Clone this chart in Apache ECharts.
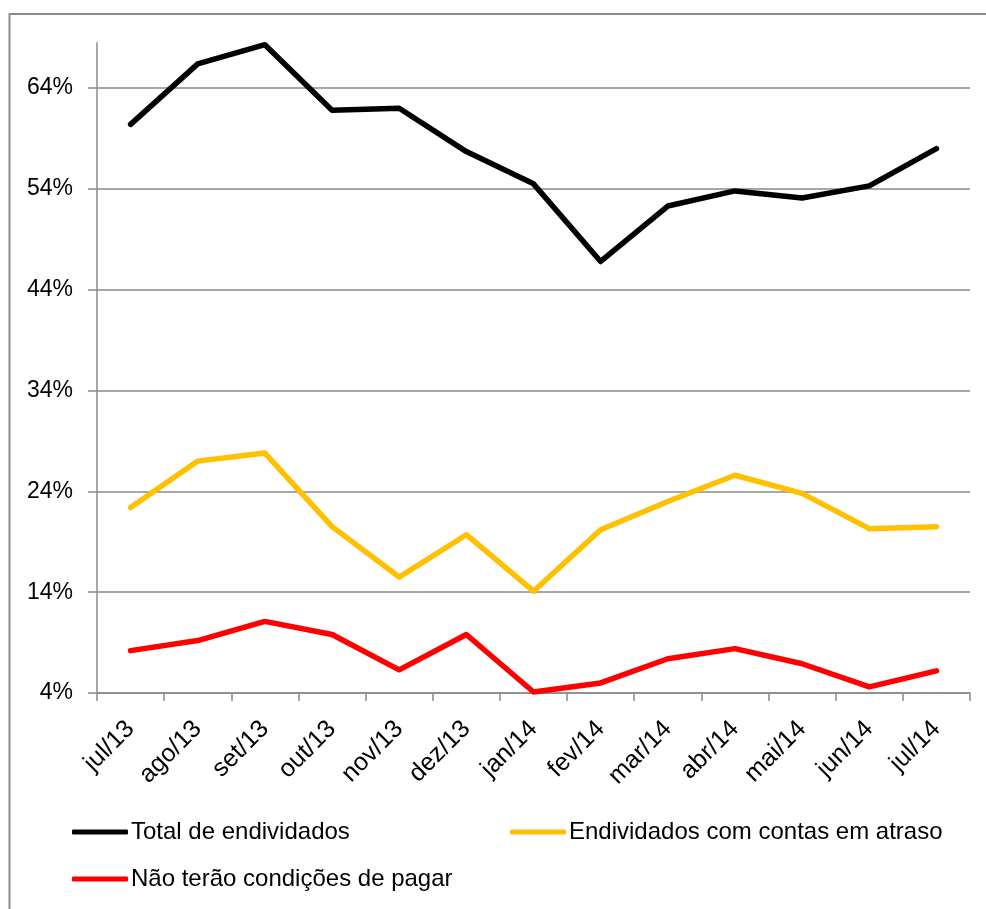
<!DOCTYPE html>
<html>
<head>
<meta charset="utf-8">
<script src="https://cdn.jsdelivr.net/npm/echarts@6/dist/echarts.min.js"></script>
<style>html,body{margin:0;padding:0;background:#fff;}#c{width:986px;height:909px;}</style>
</head>
<body>
<div id="c"></div>
<script>
const categories = ['jul/13','ago/13','set/13','out/13','nov/13','dez/13','jan/14','fev/14','mar/14','abr/14','mai/14','jun/14','jul/14'];
const totalEndividados = [60.4, 66.4, 68.3, 61.8, 62.0, 57.7, 54.5, 46.8, 52.3, 53.8, 53.1, 54.3, 58.0];
const contasAtraso = [22.4, 27.0, 27.8, 20.5, 15.5, 19.7, 14.1, 20.2, 23.0, 25.6, 23.8, 20.3, 20.5];
const semCondicoes = [8.2, 9.2, 11.1, 9.8, 6.3, 9.8, 4.1, 5.0, 7.4, 8.4, 6.9, 4.6, 6.2];
const seriesNames = ['Total de endividados', 'Endividados com contas em atraso', 'Não terão condições de pagar'];
const yTicks = [4, 14, 24, 34, 44, 54, 64];

const FONT = 'Liberation Sans';
const GRID = '#8a8a8a';
const chart = echarts.init(document.getElementById('c'), null, {renderer: 'canvas'});

function legendCfg(name, left, top) {
  return {
    left: left, top: top, padding: 0,
    data: [name],
    icon: 'roundRect', itemWidth: 56, itemHeight: 5, itemGap: 4,
    textStyle: {fontFamily: FONT, fontSize: 24, color: '#000', padding: [0, 0, 0, -2]},
    selectedMode: false
  };
}

function lineSeries(name, data, color) {
  return {
    name: name, type: 'line', data: data,
    symbol: 'none', smooth: false,
    lineStyle: {color: color, width: 5.5, cap: 'round', join: 'round'},
    itemStyle: {color: color},
    emphasis: {disabled: true}
  };
}

const option = {
  animation: false,
  backgroundColor: '#fff',
  graphic: [{
    type: 'rect', silent: true,
    shape: {x: 9.5, y: 14, width: 1100, height: 1100},
    style: {fill: 'none', stroke: '#8c8c8c', lineWidth: 2}
  }],
  grid: {left: 97, right: 16, top: 42.7, bottom: 216, containLabel: false},
  legend: [
    legendCfg(seriesNames[0], 72, 820),
    legendCfg(seriesNames[1], 510, 820),
    legendCfg(seriesNames[2], 72, 867)
  ],
  xAxis: {
    type: 'category', data: categories, boundaryGap: true,
    axisLine: {lineStyle: {color: GRID, width: 1.5}},
    axisTick: {show: true, length: 8, lineStyle: {color: GRID, width: 1.5}},
    axisLabel: {rotate: 45, margin: 32, fontFamily: FONT, fontSize: 25, color: '#000', interval: 0},
    splitLine: {show: false}
  },
  yAxis: {
    type: 'value', min: 4, max: 68.5, interval: 10,
    axisLine: {show: true, lineStyle: {color: GRID, width: 1.5}},
    axisTick: {show: true, length: 9, lineStyle: {color: GRID, width: 1.5}, customValues: yTicks},
    axisLabel: {fontFamily: FONT, fontSize: 23, color: '#000', margin: 24, customValues: yTicks,
      padding: [5, 0, 0, 0], formatter: v => v + '%'},
    splitLine: {show: true, lineStyle: {color: GRID, width: 1.5}, customValues: yTicks}
  },
  series: [
    lineSeries(seriesNames[0], totalEndividados, '#000000'),
    lineSeries(seriesNames[1], contasAtraso, '#FFC000'),
    lineSeries(seriesNames[2], semCondicoes, '#FF0000')
  ]
};
chart.setOption(option);
</script>
</body>
</html>
